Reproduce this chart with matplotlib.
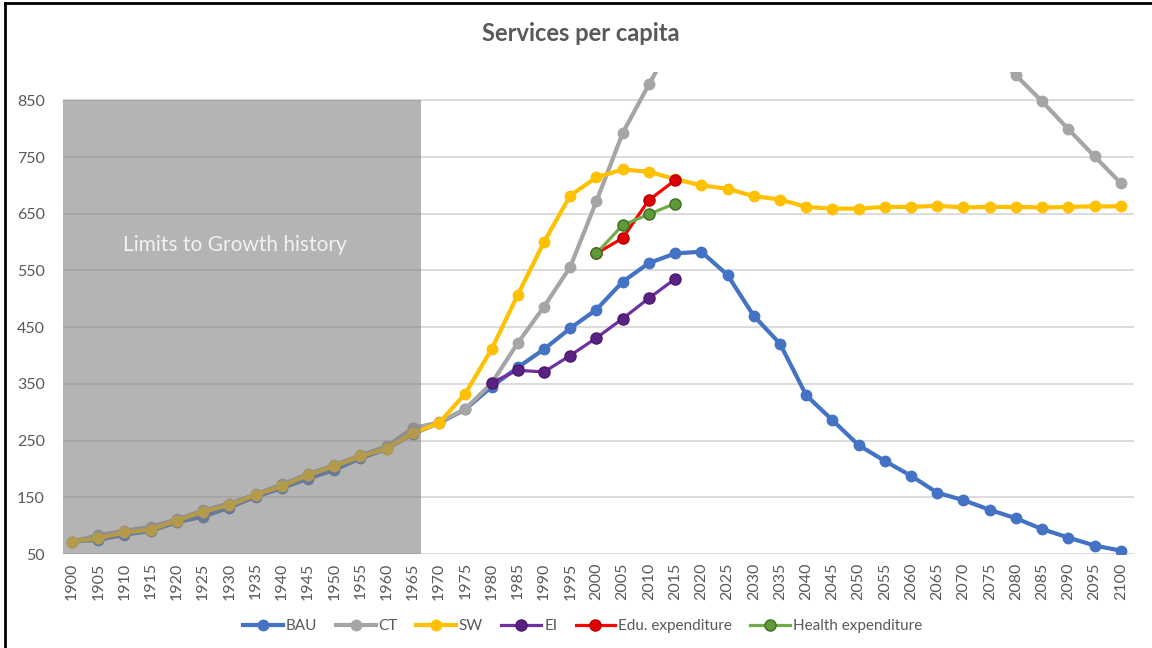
import matplotlib.pyplot as plt
from matplotlib.lines import Line2D

# Data (services per capita, 5-year steps)
years = list(range(1900, 2101, 5))

bau = [72, 75, 84, 91, 106, 116, 132, 151, 166, 183, 198, 219, 235, 262,
       281, 305, 345, 379, 411, 448, 481, 530, 563, 580, 583, 542, 470, 421,
       330, 286, 242, 214, 188, 158, 145, 128, 113, 94, 79, 65, 56]
ct = [72, 83, 91, 98, 111, 127, 139, 155, 173, 191, 207, 224, 240, 272,
      282, 306, 351, 422, 486, 556, 672, 792, 878, 960, 1020, 1060, 1080, 1090,
      1090, 1085, 1075, 1060, 1040, 1010, 980, 940, 894, 848, 799, 751, 704]
sw = [72, 78, 88, 93, 109, 125, 136, 154, 170, 189, 205, 222, 236, 263,
      281, 333, 411, 507, 600, 682, 714, 728, 724, 711, 700, 694, 681, 675,
      662, 659, 659, 662, 662, 664, 661, 662, 662, 661, 662, 663, 663]

ei_years = [1980, 1985, 1990, 1995, 2000, 2005, 2010, 2015]
ei = [352, 374, 371, 400, 431, 465, 501, 535]

exp_years = [2000, 2005, 2010, 2015]
edu = [580, 607, 674, 709]
health = [580, 630, 649, 668]

yticks = [50, 150, 250, 350, 450, 550, 650, 750, 850]

plt.rcParams['font.family'] = ['Lato', 'DejaVu Sans']
txt_col = '#595959'

fig = plt.figure(figsize=(11.52, 6.48), dpi=100)
ax = fig.add_axes([0.0547, 0.145, 0.9296, 0.744])

# series
ax.plot(years, bau, color='#4472C4', lw=3, marker='o', ms=7.5, zorder=2, label='BAU')
ax.plot(years, ct, color='#A5A5A5', lw=3, marker='o', ms=7.5, zorder=2, label='CT')
ax.plot(years, sw, color='#FFC000', lw=3, marker='o', ms=7.5, zorder=2, label='SW')
ax.plot(ei_years, ei, color='#7030A0', lw=2.3, marker='o', ms=8, mfc='#5B2185',
        mec='#4A1A6E', zorder=2, label='EI')
ax.plot(exp_years, edu, color='#FF0000', lw=2.3, marker='o', ms=8, mfc='#E00000',
        mec='#B00000', zorder=2, label='Edu. expenditure')
ax.plot(exp_years, health, color='#70AD47', lw=2.3, marker='o', ms=8, mfc='#5E9A38',
        mec='#3F6E22', zorder=2, label='Health expenditure')

# shaded history box on top of the lines (semi-transparent)
ax.fill_between([1898.28, 1966.5], 50, 850, color='#808080', alpha=0.59,
                lw=0, zorder=3)
ax.text(1931.1, 594, 'Limits to Growth history', color='#F2F2F2',
        fontsize=15, ha='center', va='center', zorder=4)

ax.set_xlim(1898.28, 2102.5)
ax.set_ylim(50, 900)
ax.set_yticks(yticks)
ax.set_xticks(years)
ax.set_xticklabels([str(y) for y in years], rotation=90)
ax.tick_params(axis='both', length=0, labelsize=11.5, labelcolor=txt_col)
ax.tick_params(axis='y', pad=13)
ax.tick_params(axis='x', pad=6)
ax.grid(axis='y', color='#D9D9D9', lw=1.3, zorder=0)
ax.set_axisbelow(True)
for s in ax.spines.values():
    s.set_visible(False)

fig.text(0.504, 0.949, 'Services per capita', ha='center', va='center',
         fontsize=17, fontweight='bold', color=txt_col)

handles, labels = ax.get_legend_handles_labels()
fig.legend(handles, labels, loc='center', bbox_to_anchor=(0.506, 0.034),
           ncol=6, frameon=False, fontsize=11, labelcolor=txt_col,
           handlelength=2.6, handletextpad=0.2, columnspacing=1.2)

# outer frame (left and top edges visible in the reference)
fig.add_artist(Line2D([0.0045, 0.0045], [0, 0.995], color='black', lw=2,
                      transform=fig.transFigure))
fig.add_artist(Line2D([0.0045, 1], [0.995, 0.995], color='black', lw=2,
                      transform=fig.transFigure))

fig.savefig('out.png', dpi=100)
